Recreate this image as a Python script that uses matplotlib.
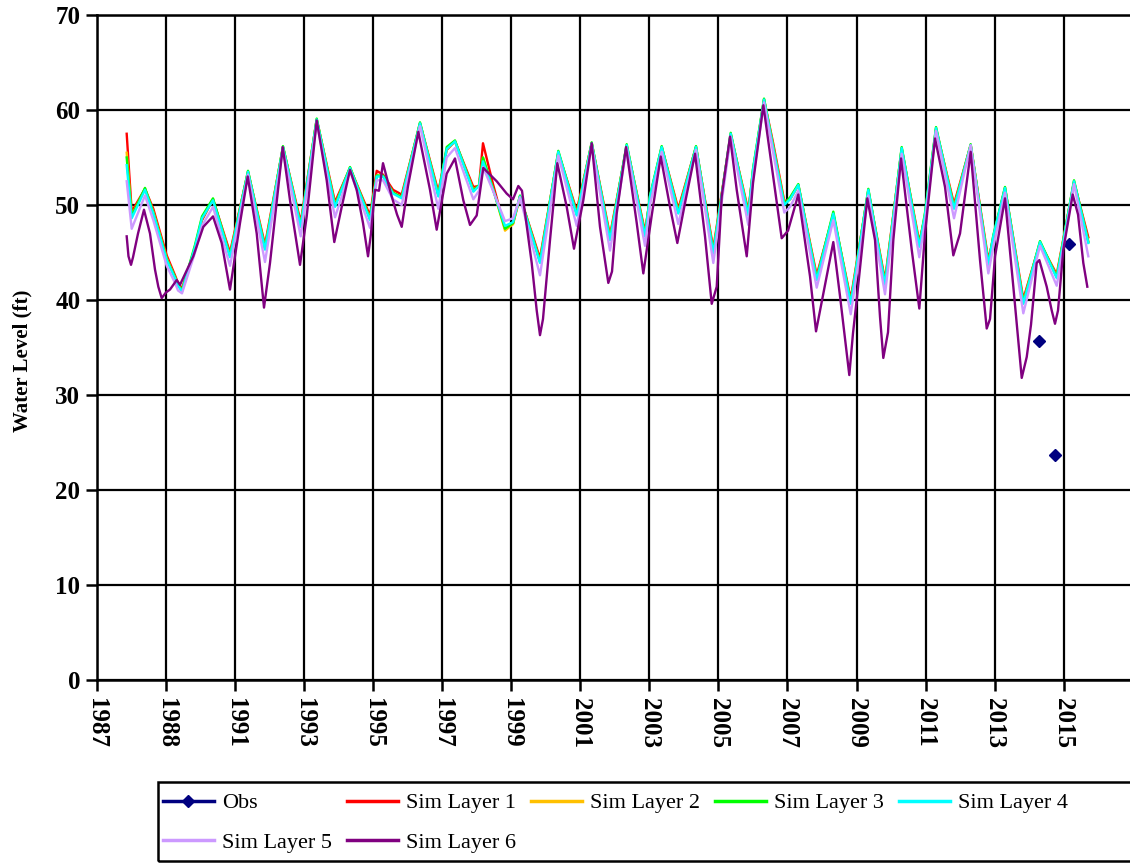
import matplotlib
matplotlib.use("Agg")
import matplotlib.pyplot as plt
from matplotlib.patches import Rectangle
import numpy as np

# ---------------- data ----------------
tick_pos = [1987, 1989, 1991, 1993, 1995, 1997, 1999, 2001, 2003, 2005,
            2007, 2009, 2011, 2013, 2015]
tick_labels = ["1987", "1988", "1991", "1993", "1995", "1997", "1999", "2001",
               "2003", "2005", "2007", "2009", "2011", "2013", "2015"]

sim_t = [1987.860, 1988.005, 1988.390, 1988.631, 1989.019, 1989.259, 1989.346, 1989.462,
         1989.839, 1990.041, 1990.360, 1990.852, 1991.374, 1991.866, 1992.387, 1992.900,
         1993.364, 1993.894, 1994.328, 1994.907, 1995.102, 1995.284, 1995.574, 1995.826,
         1996.356, 1996.886, 1997.129, 1997.369, 1997.900, 1998.065, 1998.180, 1998.470,
         1998.818, 1999.049, 1999.252, 1999.831, 2000.362, 2000.895, 2001.329, 2001.859,
         2002.343, 2002.873, 2003.018, 2003.357, 2003.837, 2004.350, 2004.851, 2005.355,
         2005.865, 2006.001, 2006.320, 2006.580, 2006.907, 2007.073, 2007.313, 2007.846,
         2008.327, 2008.831, 2009.341, 2009.824, 2010.308, 2010.818, 2010.983, 2011.302,
         2011.823, 2012.306, 2012.817, 2012.961, 2013.300, 2013.830, 2014.314, 2014.798,
         2015.299, 2015.713]

layer1 = [57.5, 49.3, 51.7, 49.6, 44.7, 42.6, 41.8, 41.2,
          45.4, 48.4, 50.6, 45.0, 53.5, 45.8, 56.1, 48.2,
          59.0, 50.3, 53.9, 48.9, 53.6, 53.2, 51.6, 51.1,
          58.6, 51.4, 55.8, 56.7, 51.9, 52.0, 56.5, 52.2,
          47.5, 48.0, 50.9, 44.4, 55.5, 49.4, 56.5, 46.8,
          56.2, 47.2, 50.7, 56.1, 49.6, 56.1, 45.4, 57.4,
          49.4, 53.5, 61.1, 56.6, 50.4, 50.6, 52.1, 42.6,
          49.0, 40.1, 51.5, 42.1, 55.9, 46.1, 48.8, 58.0,
          50.1, 56.3, 44.2, 46.5, 51.8, 40.1, 46.0, 42.7,
          52.4, 46.6]
layer2 = [55.5, 48.9, 51.7, 49.3, 44.4, 42.4, 41.6, 41.0,
          45.6, 48.6, 50.6, 44.7, 53.5, 45.5, 56.1, 47.9,
          59.0, 50.0, 53.9, 48.6, 53.1, 53.0, 51.3, 50.8,
          58.6, 51.1, 55.9, 56.7, 51.6, 52.0, 55.0, 51.7,
          47.3, 48.0, 50.9, 44.1, 55.6, 49.1, 56.5, 46.5,
          56.3, 46.9, 50.9, 56.1, 49.3, 56.1, 45.1, 57.5,
          49.1, 53.7, 61.1, 56.3, 50.2, 50.6, 52.1, 42.3,
          49.1, 39.8, 51.6, 41.8, 56.0, 45.8, 49.0, 58.1,
          49.8, 56.3, 43.9, 46.7, 51.8, 39.8, 46.1, 42.5,
          52.5, 46.2]
layer3 = [55.0, 48.8, 51.8, 49.2, 44.3, 42.4, 41.6, 41.0,
          45.8, 48.8, 50.7, 44.6, 53.6, 45.4, 56.2, 47.8,
          59.1, 49.9, 54.0, 48.5, 53.1, 53.1, 51.3, 50.8,
          58.7, 51.0, 56.1, 56.8, 51.5, 52.1, 55.0, 51.7,
          47.5, 48.1, 51.0, 44.0, 55.7, 49.0, 56.6, 46.4,
          56.4, 46.8, 51.0, 56.2, 49.2, 56.2, 45.0, 57.6,
          49.0, 53.8, 61.2, 56.2, 50.1, 50.8, 52.2, 42.2,
          49.3, 39.7, 51.7, 41.7, 56.1, 45.7, 49.2, 58.2,
          49.7, 56.4, 43.8, 46.8, 51.9, 39.7, 46.2, 42.4,
          52.6, 46.1]
layer4 = [54.2, 48.6, 51.6, 49.1, 44.2, 42.3, 41.5, 40.9,
          45.6, 48.6, 50.5, 44.5, 53.5, 45.3, 56.1, 47.7,
          59.0, 49.8, 53.9, 48.4, 53.0, 53.0, 51.2, 50.7,
          58.6, 50.9, 55.9, 56.7, 51.4, 52.0, 54.6, 51.6,
          47.8, 48.2, 50.9, 43.9, 55.6, 48.9, 56.5, 46.3,
          56.3, 46.7, 50.9, 56.1, 49.1, 56.1, 44.9, 57.5,
          48.9, 53.7, 61.1, 56.1, 50.0, 50.6, 52.1, 42.1,
          49.1, 39.6, 51.6, 41.6, 56.0, 45.6, 49.0, 58.1,
          49.6, 56.3, 43.7, 46.7, 51.8, 39.6, 46.1, 42.3,
          52.5, 46.0]
layer5 = [52.5, 47.5, 51.0, 48.4, 43.6, 41.8, 41.0, 40.7,
          45.0, 47.8, 49.8, 43.6, 53.2, 44.0, 55.8, 46.7,
          58.7, 48.7, 53.6, 47.6, 52.6, 52.6, 50.6, 50.0,
          58.3, 49.6, 55.0, 56.0, 50.6, 51.5, 54.0, 51.5,
          48.3, 48.6, 50.8, 42.6, 55.2, 47.8, 56.3, 45.2,
          56.0, 45.7, 50.0, 55.6, 48.0, 55.8, 43.9, 57.2,
          47.9, 52.8, 60.8, 55.6, 49.2, 49.8, 51.5, 41.3,
          48.4, 38.5, 51.0, 40.6, 55.4, 44.5, 48.2, 57.8,
          48.6, 56.3, 42.8, 45.6, 51.3, 38.6, 45.7, 41.5,
          52.2, 44.6]

l6_t = [1987.860, 1987.912, 1987.985, 1988.043, 1988.188, 1988.361, 1988.535, 1988.680,
        1988.776, 1988.874, 1988.999, 1989.114, 1989.309, 1989.404, 1989.789, 1990.079,
        1990.360, 1990.612, 1990.852, 1991.142, 1991.365, 1991.626, 1991.837, 1992.011,
        1992.379, 1992.590, 1992.880, 1993.074, 1993.364, 1993.653, 1993.873, 1994.088,
        1994.328, 1994.522, 1994.705, 1994.850, 1994.936, 1995.052, 1995.168, 1995.284,
        1995.536, 1995.690, 1995.826, 1996.008, 1996.307, 1996.645, 1996.839, 1997.129,
        1997.369, 1997.610, 1997.804, 1997.998, 1998.189, 1998.577, 1998.867, 1999.049,
        1999.203, 1999.310, 1999.591, 1999.736, 1999.831, 1999.918, 2000.121, 2000.333,
        2000.605, 2000.816, 2001.086, 2001.329, 2001.569, 2001.810, 2001.917, 2002.053,
        2002.323, 2002.633, 2002.824, 2003.067, 2003.328, 2003.597, 2003.809, 2004.031,
        2004.321, 2004.611, 2004.805, 2004.950, 2005.094, 2005.335, 2005.529, 2005.819,
        2006.001, 2006.300, 2006.639, 2006.832, 2007.015, 2007.313, 2007.652, 2007.826,
        2008.136, 2008.327, 2008.521, 2008.790, 2008.897, 2009.004, 2009.311, 2009.535,
        2009.680, 2009.775, 2009.911, 2010.065, 2010.288, 2010.598, 2010.818, 2010.983,
        2011.273, 2011.562, 2011.803, 2011.997, 2012.306, 2012.576, 2012.770, 2012.866,
        2013.011, 2013.300, 2013.541, 2013.784, 2013.929, 2014.053, 2014.218, 2014.294,
        2014.508, 2014.653, 2014.748, 2014.835, 2014.989, 2015.261, 2015.415, 2015.568,
        2015.684]
layer6 = [46.7, 44.6, 43.7, 44.5, 47.0, 49.5, 47.0, 43.2,
          41.4, 40.2, 40.8, 41.1, 42.1, 41.6, 44.6, 47.7,
          48.8, 46.0, 41.1, 48.1, 53.0, 47.0, 39.2, 43.9,
          56.1, 50.5, 43.7, 48.8, 58.9, 52.6, 46.1, 49.8,
          53.7, 51.6, 48.1, 44.6, 47.0, 51.6, 51.5, 54.4,
          50.9, 49.0, 47.7, 52.0, 57.7, 51.6, 47.4, 53.3,
          54.9, 50.5, 47.9, 48.9, 53.9, 52.5, 51.2, 50.6,
          52.0, 51.5, 43.9, 38.9, 36.3, 38.0, 46.3, 54.4,
          49.8, 45.4, 50.5, 56.5, 47.7, 41.8, 43.0, 49.1,
          56.1, 48.1, 42.8, 48.9, 55.1, 49.8, 46.0, 50.2,
          55.4, 46.7, 39.6, 41.4, 50.9, 57.2, 51.6, 44.6,
          52.3, 60.5, 51.6, 46.5, 47.3, 51.1, 42.5, 36.7,
          42.5, 46.1, 40.4, 32.1, 36.5, 40.0, 50.7, 46.3,
          38.2, 33.9, 36.6, 46.3, 54.9, 45.3, 39.1, 47.0,
          57.0, 51.9, 44.7, 47.0, 55.6, 44.2, 37.0, 38.0,
          44.6, 50.7, 41.4, 31.8, 34.0, 37.4, 43.9, 44.2,
          41.4, 38.9, 37.5, 38.9, 45.3, 51.1, 49.0, 43.9,
          41.4]

obs_t = [2014.294, 2014.757, 2015.154]
obs_v = [35.7, 23.7, 45.9]

# ---------------- figure ----------------
W, H = 1130, 863
fig = plt.figure(figsize=(W / 100, H / 100), dpi=100)
serif = ["Liberation Serif", "DejaVu Serif"]
plt.rcParams["font.family"] = serif

L, B, R, T = 97, 680, 1130, 15
ax = fig.add_axes([L / W, 1 - B / H, (R - L) / W, (B - T) / H])

# obs: points separated by gaps
ox, oy = [], []
for t, v in zip(obs_t, obs_v):
    ox += [t, np.nan]
    oy += [v, np.nan]
ax.plot(ox, oy, color="#000080", lw=1.6, marker="D", ms=6.5, label="Obs", zorder=3)

cols = ["#FF0000", "#FFC000", "#00FF00", "#00FFFF", "#CC99FF", "#800080"]
series = [layer1, layer2, layer3, layer4, layer5]
for i, s in enumerate(series):
    ax.plot(sim_t, s, color=cols[i], lw=1.7, label=f"Sim Layer {i + 1}", zorder=3)
ax.plot(l6_t, layer6, color=cols[5], lw=1.7, label="Sim Layer 6", zorder=3)

ax.set_xlim(1987, 1987 + 2 * (R - L) / 69.05)
ax.set_ylim(0, 70)
ax.set_yticks(range(0, 71, 10))
ax.set_xticks(tick_pos)
ax.set_xticklabels(tick_labels, rotation=-90, fontsize=18, fontweight="bold",
                   va="top", ha="center")
ax.set_yticklabels([str(v) for v in range(0, 71, 10)], fontsize=18, fontweight="bold")
ax.tick_params(axis="both", direction="out", length=8, width=1.8, color="black")
ax.tick_params(axis="x", pad=5)
ax.tick_params(axis="y", pad=4)
ax.grid(True, color="black", lw=1.6)
ax.set_axisbelow(True)
ax.spines["right"].set_visible(False)
for sp in ["left", "bottom", "top"]:
    ax.spines[sp].set_linewidth(1.8)
    ax.spines[sp].set_color("black")

fig.text(22 / W, 1 - 361 / H, "Water Level (ft)", rotation=90, fontsize=15,
         fontweight="bold", ha="center", va="center")

# legend box (extends past the right edge as in the reference)
fig.patches.append(Rectangle((158 / W, 1 - 861 / H), (1200 - 158) / W, (861 - 782) / H,
                             transform=fig.transFigure, fill=False,
                             edgecolor="black", lw=1.8))

# legend (column-major order to get row layout)
h, lab = ax.get_legend_handles_labels()
order = [0, 5, 1, 6, 2, 3, 4]
leg = fig.legend([h[i] for i in order], [lab[i] for i in order], ncol=5,
                 loc="upper left", bbox_to_anchor=(155 / W, 1 - 785 / H),
                 fontsize=16, frameon=False, handlelength=2.3, handletextpad=0.38,
                 columnspacing=0.65, labelspacing=0.85, borderpad=0.35,
                 borderaxespad=0)
for lh in leg.get_lines():
    lh.set_linewidth(2.5)

fig.savefig("out.png", dpi=100)
